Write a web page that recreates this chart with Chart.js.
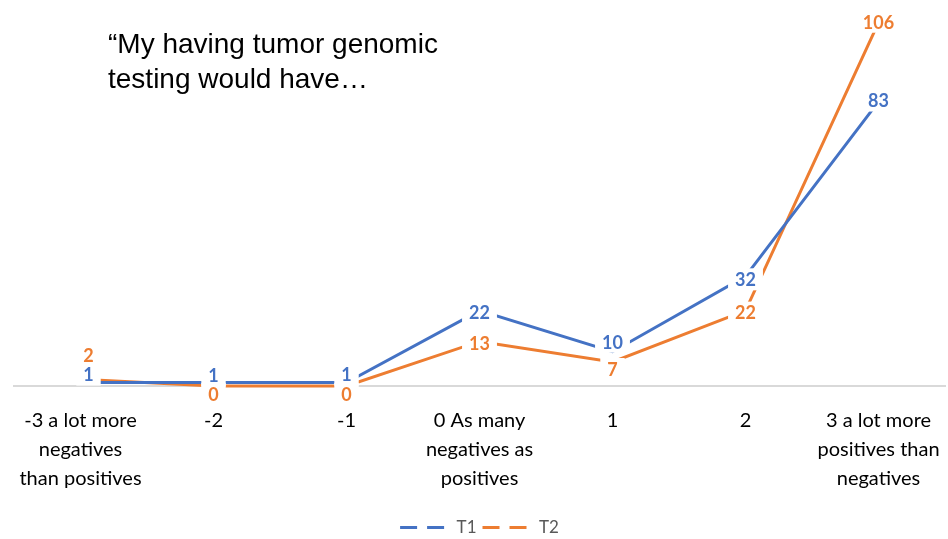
<!DOCTYPE html>
<html>
<head>
<meta charset="utf-8">
<script src="https://cdn.jsdelivr.net/npm/chart.js@4"></script>
<style>
  html, body { margin: 0; padding: 0; background: #fff; }
  #wrap { position: relative; width: 948px; height: 539px; }
  #note {
    position: absolute; left: 108px; top: 26px;
    font-family: "Liberation Sans", Arial, sans-serif; font-size: 28px;
    line-height: 35px; color: #000; white-space: nowrap;
  }
</style>
</head>
<body>
<div id="wrap">
  <canvas id="lineChart" width="948" height="539"></canvas>
  <div id="note">“My having tumor genomic<br>testing would have…</div>
</div>
<script>
const categories = [
  ['-3 a lot more', 'negatives', 'than positives'],
  '-2',
  '-1',
  ['0 As many', 'negatives as', 'positives'],
  '1',
  '2',
  ['3 a lot more', 'positives than', 'negatives']
];
const t1Values = [1, 1, 1, 22, 10, 32, 83];
const t2Values = [2, 0, 0, 13, 7, 22, 106];

// small nudges so overlapping labels sit apart, like the original
const t1LabelNudge = [[8, -8], [0, -7], [0, -8], [0, 2], [0, -10], [0, 3], [0, -1]];
const t2LabelNudge = [[8, -24], [0, 8], [0, 8], [0, 2], [0, 7], [0, 2], [0, -1]];

const blue = '#4472C4';
const orange = '#ED7D31';

const pointLabels = {
  id: 'pointLabels',
  afterDatasetsDraw(chart) {
    const ctx = chart.ctx;
    ctx.save();
    ctx.font = 'bold 18px Lato, "Liberation Sans", sans-serif';
    ctx.textAlign = 'center';
    ctx.textBaseline = 'middle';
    chart.data.datasets.forEach((ds, i) => {
      const meta = chart.getDatasetMeta(i);
      meta.data.forEach((pt, j) => {
        const nudge = ds.labelNudge[j];
        const x = pt.x + nudge[0];
        const y = pt.y + nudge[1];
        const text = String(ds.data[j]);
        const w = ctx.measureText(text).width + 14;
        ctx.fillStyle = '#fff';
        ctx.fillRect(x - w / 2, y - 11, w, 22);
        ctx.fillStyle = ds.borderColor;
        ctx.fillText(text, x, y + 1);
      });
    });
    ctx.restore();
  }
};

const lineChart = new Chart(document.getElementById('lineChart').getContext('2d'), {
  type: 'line',
  data: {
    labels: categories,
    datasets: [
      {
        label: 'T1',
        data: t1Values,
        borderColor: blue,
        backgroundColor: blue,
        borderWidth: 3,
        pointRadius: 0,
        tension: 0,
        clip: false,
        labelNudge: t1LabelNudge
      },
      {
        label: 'T2',
        data: t2Values,
        borderColor: orange,
        backgroundColor: orange,
        borderWidth: 3,
        pointRadius: 0,
        tension: 0,
        clip: false,
        labelNudge: t2LabelNudge
      }
    ]
  },
  options: {
    responsive: false,
    animation: false,
    layout: { padding: { left: 14, right: 3, top: 9, bottom: -7 } },
    plugins: {
      tooltip: { enabled: false },
      legend: {
        display: true,
        position: 'bottom',
        labels: {
          color: '#595959',
          font: { family: 'Lato, "Liberation Sans", sans-serif', size: 17 },
          usePointStyle: true,
          pointStyleWidth: 48,
          boxHeight: 12,
          padding: 6,
          generateLabels(chart) {
            return chart.data.datasets.map((ds, i) => ({
              text: ds.label,
              strokeStyle: ds.borderColor,
              fillStyle: ds.borderColor,
              lineWidth: 3,
              lineDash: [17, 10],
              pointStyle: 'line',
              datasetIndex: i,
              fontColor: '#595959'
            }));
          }
        }
      }
    },
    scales: {
      x: {
        offset: true,
        grid: { display: false, drawTicks: false },
        border: { display: true, color: '#d9d9d9', width: 2 },
        ticks: {
          color: '#000',
          maxRotation: 0,
          autoSkip: false,
          padding: 20,
          font: { family: 'Lato, "Liberation Sans", sans-serif', size: 20, lineHeight: '29px' }
        },
        afterFit(scale) {
          scale.paddingLeft = 0;
          scale.paddingRight = 0;
        }
      },
      y: {
        display: false,
        min: 0,
        max: 110
      }
    }
  },
  plugins: [pointLabels]
});
</script>
</body>
</html>
